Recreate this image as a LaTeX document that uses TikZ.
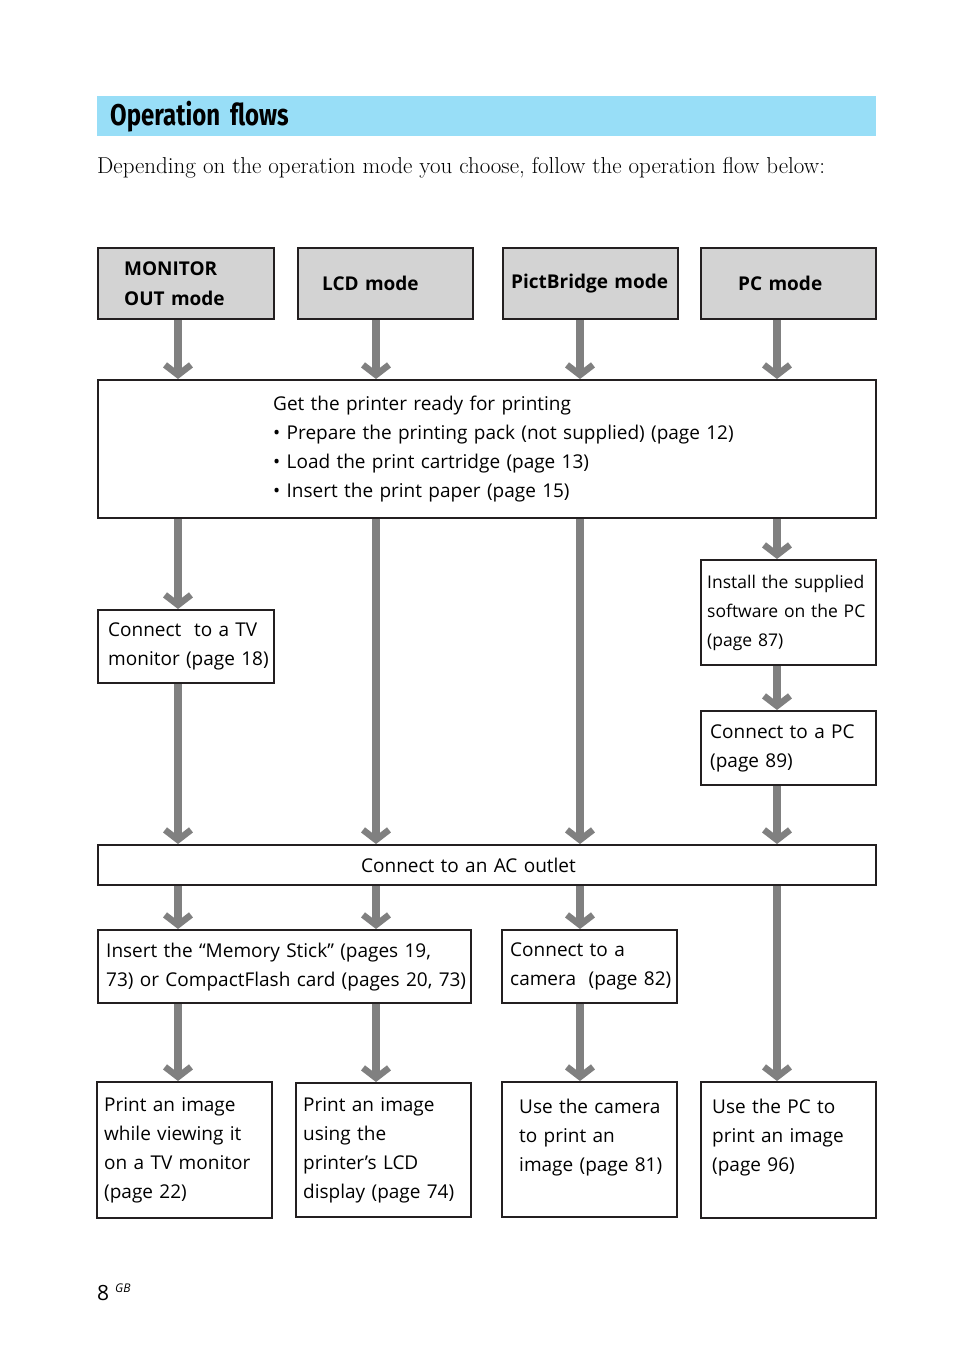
\documentclass[tikz,border=0pt]{standalone}
\usepackage{fontspec}
\usepackage{tikz}
\usetikzlibrary{arrows.meta}
\newfontfamily\boxfont{Open Sans}
\newfontfamily\headfont[FakeStretch=0.8]{Fira Sans}
\definecolor{headblue}{RGB}{152,222,247}
\definecolor{modegray}{RGB}{211,211,211}
\definecolor{flowgray}{RGB}{128,128,128}
\definecolor{inkblack}{RGB}{35,31,32}

\begin{document}
\begin{tikzpicture}[x=1pt, y=-1pt,
    stepbox/.style n args={3}{draw=inkblack, line width=2.4pt, anchor=north west,
        minimum width=#1, minimum height=#2, inner xsep=2pt, inner ysep=0pt,
        text width=#1-4, align=left, font=\boxfont\fontsize{19}{29}\selectfont,
        execute at begin node={\leftskip=\dimexpr#3pt-2pt\relax},
        execute at end node={\endgraf}},
    modebox/.style n args={3}{stepbox={#1}{#2}{#3}, fill=modegray,
        font=\boxfont\bfseries\fontsize{19}{31}\selectfont},
    flow/.style={draw=flowgray, line width=8pt,
        -{Straight Barb[length=10pt, width=26pt, line width=6.5pt]}}]
    \useasboundingbox (0,0) rectangle (954,1352);

    % heading and intro
    \node[fill=headblue, anchor=north west, minimum width=779, minimum height=40,
        inner xsep=13pt, text width=753, align=left,
        font=\headfont\bfseries\fontsize{30}{34}\selectfont] (head) at (97,96) {Operation flows};
    \node[anchor=base west, inner sep=0pt, font=\fontsize{23}{27}\selectfont]
        (intro) at (97,173) {Depending on the operation mode you choose, follow the operation flow below:};

    % columns of the arrows
    \coordinate (c1) at (178,0);
    \coordinate (c2) at (376,0);
    \coordinate (c3) at (580,0);
    \coordinate (c4) at (777,0);

    % modes
    \node[modebox={176}{71}{26}] (mon) at (97,247) {MONITOR\\OUT mode};
    \node[modebox={175}{71}{24}] (lcd) at (297,247) {LCD mode};
    \node[modebox={175}{71}{8}] (pict) at (502,247) {PictBridge mode};
    \node[modebox={175}{71}{37}] (pc) at (700,247) {PC mode};

    % steps
    \node[stepbox={778}{138}{175}] (ready) at (97,379) {Get the printer ready for printing\\
        • Prepare the printing pack (not supplied) (page 12)\\
        • Load the print cartridge (page 13)\\
        • Insert the print paper (page 15)};
    \node[stepbox={176}{73}{10}] (tv) at (97,609) {Connect\ \ to a TV\\monitor (page 18)};
    \node[stepbox={175}{105}{6}, font=\boxfont\fontsize{17.5}{29}\selectfont] (inst) at (700,559)
        {Install the supplied\\software on the PC\\(page 87)};
    \node[stepbox={175}{74}{9}] (pcc) at (700,710) {Connect to a PC\\(page 89)};
    \node[stepbox={778}{40}{263}] (ac) at (97,844) {Connect to an AC outlet};
    \node[stepbox={373}{73}{8}] (ms) at (97,929) {Insert the “Memory Stick” (pages 19,\\73) or CompactFlash card (pages 20, 73)};
    \node[stepbox={175}{73}{8}] (cam) at (501,929) {Connect to a\\camera\ \ (page 82)};

    % results
    \node[stepbox={175}{136}{7}] (tvprint) at (96,1081) {Print an image\\while viewing it\\on a TV monitor\\(page 22)};
    \node[stepbox={175}{134}{7}] (lcdprint) at (295,1082) {Print an image\\using the\\printer’s LCD\\display (page 74)};
    \node[stepbox={175}{135}{17}] (camprint) at (501,1081) {Use the camera\\to print an\\image (page 81)\\\mbox{}};
    \node[stepbox={175}{136}{11}] (pcprint) at (700,1081) {Use the PC to\\print an image\\(page 96)\\\mbox{}};

    \node[anchor=base west, inner sep=0pt, font=\boxfont\fontsize{21}{25}\selectfont]
        (folio) at (97,1300) {8\hspace{6pt}\raisebox{8pt}{\fontsize{12}{14}\selectfont\itshape GB}};

    % flows
    \draw[flow] (c1 |- mon.south) -- (c1 |- ready.north);
    \draw[flow] (c2 |- lcd.south) -- (c2 |- ready.north);
    \draw[flow] (c3 |- pict.south) -- (c3 |- ready.north);
    \draw[flow] (c4 |- pc.south) -- (c4 |- ready.north);
    \draw[flow] (c1 |- ready.south) -- (c1 |- tv.north);
    \draw[flow] (c1 |- tv.south) -- (c1 |- ac.north);
    \draw[flow] (c2 |- ready.south) -- (c2 |- ac.north);
    \draw[flow] (c3 |- ready.south) -- (c3 |- ac.north);
    \draw[flow] (c4 |- ready.south) -- (c4 |- inst.north);
    \draw[flow] (c4 |- inst.south) -- (c4 |- pcc.north);
    \draw[flow] (c4 |- pcc.south) -- (c4 |- ac.north);
    \draw[flow] (c1 |- ac.south) -- (c1 |- ms.north);
    \draw[flow] (c2 |- ac.south) -- (c2 |- ms.north);
    \draw[flow] (c3 |- ac.south) -- (c3 |- cam.north);
    \draw[flow] (c4 |- ac.south) -- (c4 |- pcprint.north);
    \draw[flow] (c1 |- ms.south) -- (c1 |- tvprint.north);
    \draw[flow] (c2 |- ms.south) -- (c2 |- lcdprint.north);
    \draw[flow] (c3 |- cam.south) -- (c3 |- camprint.north);
\end{tikzpicture}
\end{document}
